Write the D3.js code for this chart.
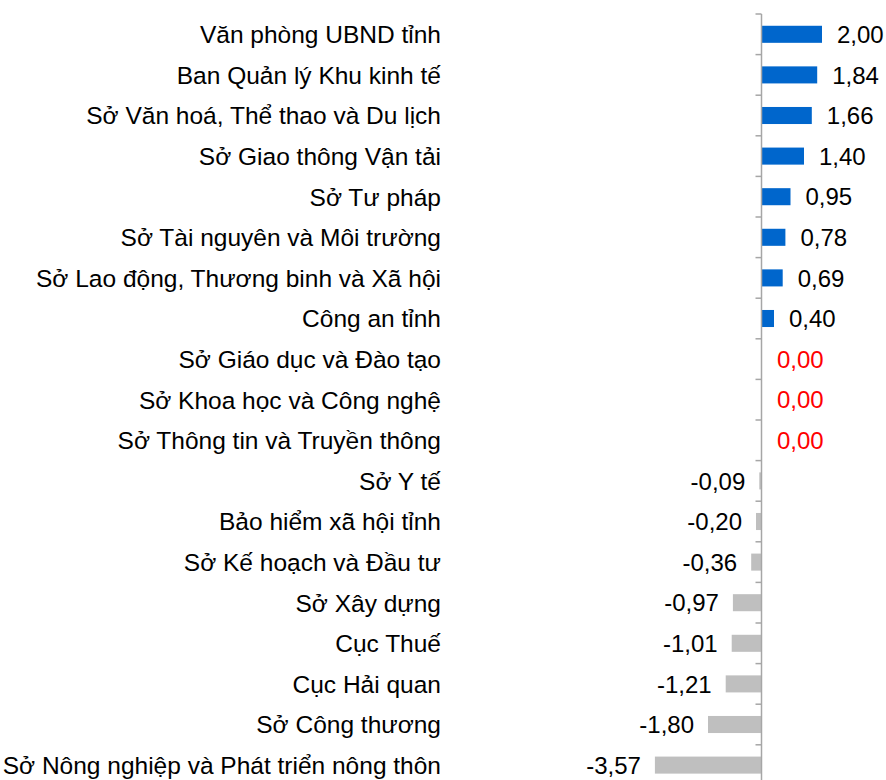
<!DOCTYPE html>
<html>
<head>
<meta charset="utf-8">
<script src="https://cdn.jsdelivr.net/npm/d3@7"></script>
<style>
  body { margin: 0; background: #fff; }
  text { font-family: "Liberation Sans", Arial, sans-serif; }
</style>
</head>
<body>
<div id="chart"></div>
<script>
// data
var categories = [
  "Văn phòng UBND tỉnh",
  "Ban Quản lý Khu kinh tế",
  "Sở Văn hoá, Thể thao và Du lịch",
  "Sở Giao thông Vận tải",
  "Sở Tư pháp",
  "Sở Tài nguyên và Môi trường",
  "Sở Lao động, Thương binh và Xã hội",
  "Công an tỉnh",
  "Sở Giáo dục và Đào tạo",
  "Sở Khoa học và Công nghệ",
  "Sở Thông tin và Truyền thông",
  "Sở Y tế",
  "Bảo hiểm xã hội tỉnh",
  "Sở Kế hoạch và Đầu tư",
  "Sở Xây dựng",
  "Cục Thuế",
  "Cục Hải quan",
  "Sở Công thương",
  "Sở Nông nghiệp và Phát triển nông thôn"
];
var values = [2.00, 1.84, 1.66, 1.40, 0.95, 0.78, 0.69, 0.40, 0.00, 0.00, 0.00,
  -0.09, -0.20, -0.36, -0.97, -1.01, -1.21, -1.80, -3.57];

var width = 886, height = 780;
var top0 = 14, band = 40.6;

var data = categories.map(function(c, i) { return {name: c, value: values[i]}; });

var svg = d3.select("#chart").append("svg")
  .attr("width", width)
  .attr("height", height);

// x scale: 30px per unit, zero at 762
var x = d3.scaleLinear()
  .domain([-3.57, 2.00])
  .range([762 - 3.57 * 30, 762 + 2.00 * 30]);

var y = d3.scaleBand()
  .domain(categories)
  .range([top0, top0 + band * categories.length])
  .paddingInner(0.58)
  .paddingOuter(0.29);

var fmt = function(v) { return v.toFixed(2).replace(".", ","); };

// bars
svg.selectAll(".bar")
  .data(data)
  .enter()
  .append("rect")
  .attr("class", "bar")
  .attr("x", function(d) { return x(Math.min(0, d.value)); })
  .attr("y", function(d) { return y(d.name); })
  .attr("width", function(d) { return Math.abs(x(d.value) - x(0)); })
  .attr("height", y.bandwidth())
  .attr("fill", function(d) { return d.value >= 0 ? "#0066CC" : "#BFBFBF"; });

// vertical axis line with ticks between categories
var axisX = x(0) - 0.5;
svg.append("line")
  .attr("x1", axisX).attr("x2", axisX)
  .attr("y1", top0).attr("y2", height)
  .attr("stroke", "#A6A6A6")
  .attr("stroke-width", 1.5);

svg.selectAll(".tick")
  .data(d3.range(categories.length + 1))
  .enter()
  .append("line")
  .attr("x1", axisX - 6).attr("x2", axisX)
  .attr("y1", function(i) { return top0 + i * band; })
  .attr("y2", function(i) { return top0 + i * band; })
  .attr("stroke", "#A6A6A6")
  .attr("stroke-width", 1.5);

// category labels
svg.selectAll(".cat")
  .data(data)
  .enter()
  .append("text")
  .attr("x", 441)
  .attr("y", function(d) { return y(d.name) + y.bandwidth() / 2; })
  .attr("dy", "0.36em")
  .style("text-anchor", "end")
  .style("font-size", "24.5px")
  .attr("fill", "#000")
  .text(function(d) { return d.name; });

// value labels
svg.selectAll(".val")
  .data(data)
  .enter()
  .append("text")
  .attr("x", function(d) { return d.value < 0 ? x(d.value) - 14 : x(d.value) + 15; })
  .attr("y", function(d) { return y(d.name) + y.bandwidth() / 2; })
  .attr("dy", "0.36em")
  .style("text-anchor", function(d) { return d.value < 0 ? "end" : "start"; })
  .style("font-size", "24px")
  .attr("fill", function(d) { return d.value === 0 ? "#FF0000" : "#000"; })
  .text(function(d) { return fmt(d.value); });
</script>
</body>
</html>
